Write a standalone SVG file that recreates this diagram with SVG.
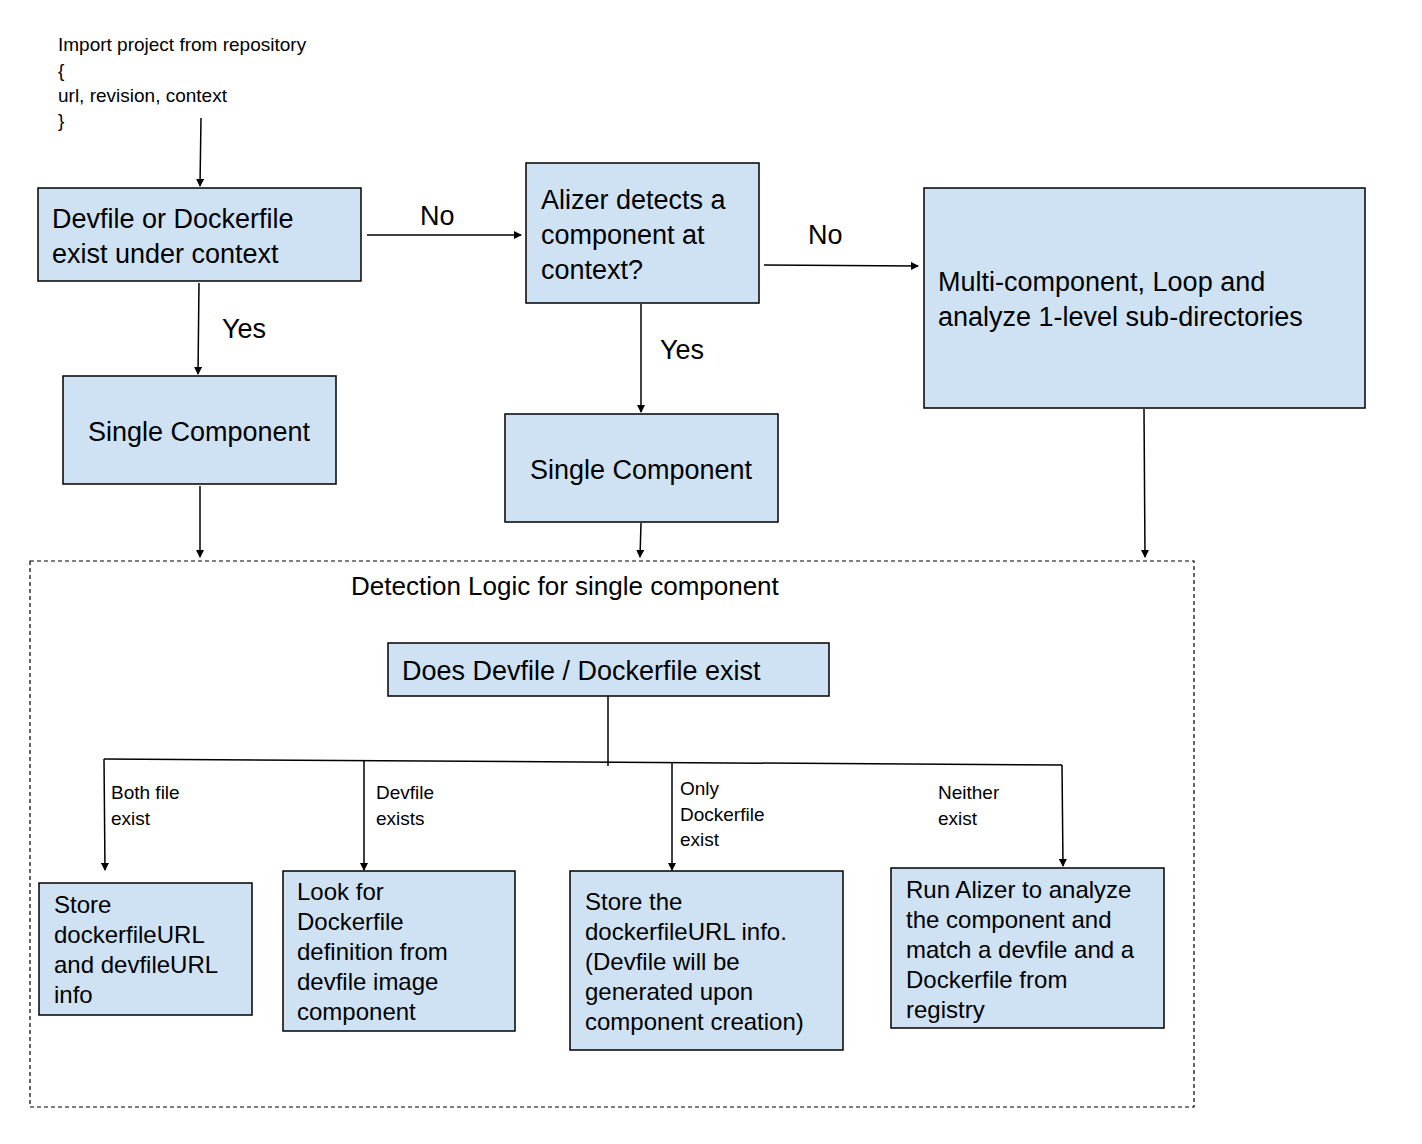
<svg xmlns="http://www.w3.org/2000/svg" width="1422" height="1144" viewBox="0 0 1422 1144">
<style>
text{font-family:"Liberation Sans",Arial,sans-serif;fill:#000}
.box{fill:#cfe2f3;stroke:#000;stroke-width:1.5}
.big{font-size:27px}
.mid{font-size:24px}
.sm{font-size:19px}
.ln{stroke:#000;stroke-width:1.5;fill:none}
.ar{stroke:#000;stroke-width:1.5;fill:none;marker-end:url(#ah)}
</style>
<defs><marker id="ah" markerWidth="8" markerHeight="8" refX="7" refY="4" orient="auto" markerUnits="userSpaceOnUse"><path d="M0,0 L8,4 L0,8 Z" fill="#000"/></marker></defs>
<rect width="1422" height="1144" fill="#fff"/>
<g id="start"><text class="sm" x="58" y="51">Import project from repository</text><text class="sm" x="58" y="77">{</text><text class="sm" x="58" y="102">url, revision, context</text><text class="sm" x="58" y="127">}</text></g>
<g id="connectors">
<path class="ar" d="M201,118 L200,186"/>
<path class="ar" d="M367,235 L521,235"/>
<path class="ar" d="M764,265 L918,266"/>
<path class="ar" d="M199,283 L198,374"/>
<path class="ar" d="M641,304 L641,412"/>
<path class="ar" d="M200,486 L200,557"/>
<path class="ar" d="M641,523 L640,557"/>
<path class="ar" d="M1144,409 L1145,557"/>
<path class="ln" d="M608,696 L608,766"/>
<path class="ln" d="M104,759 L1062,765"/>
<path class="ar" d="M104,759 L105,870"/>
<path class="ar" d="M364,760 L364,870"/>
<path class="ar" d="M672,763 L672,870"/>
<path class="ar" d="M1062,765 L1063,866"/>
<text class="big" x="420" y="225">No</text>
<text class="big" x="808" y="244">No</text>
<text class="big" x="222" y="338">Yes</text>
<text class="big" x="660" y="359">Yes</text>
<text class="sm" x="111" y="799">Both file</text><text class="sm" x="111" y="825">exist</text>
<text class="sm" x="376" y="799">Devfile</text><text class="sm" x="376" y="825">exists</text>
<text class="sm" x="680" y="795">Only</text><text class="sm" x="680" y="821">Dockerfile</text><text class="sm" x="680" y="846">exist</text>
<text class="sm" x="938" y="799">Neither</text><text class="sm" x="938" y="825">exist</text>
</g>
<g id="n1"><rect class="box" x="38" y="188" width="323" height="93"/><text class="big" x="52" y="228">Devfile or Dockerfile</text><text class="big" x="52" y="263">exist under context</text></g>
<g id="n2"><rect class="box" x="526" y="163" width="233" height="140"/><text class="big" x="541" y="209">Alizer detects a</text><text class="big" x="541" y="244">component at</text><text class="big" x="541" y="279">context?</text></g>
<g id="n3"><rect class="box" x="924" y="188" width="441" height="220"/><text class="big" x="938" y="291">Multi-component, Loop and</text><text class="big" x="938" y="326">analyze 1-level sub-directories</text></g>
<g id="n4"><rect class="box" x="63" y="376" width="273" height="108"/><text class="big" x="199" y="441" text-anchor="middle">Single Component</text></g>
<g id="n5"><rect class="box" x="505" y="414" width="273" height="108"/><text class="big" x="641" y="479" text-anchor="middle">Single Component</text></g>
<g id="group"><rect x="30" y="561" width="1164" height="546" fill="none" stroke="#000" stroke-width="1.2" stroke-dasharray="4,3"/><text class="big" x="351" y="595" style="font-size:26px">Detection Logic for single component</text></g>
<g id="n6"><rect class="box" x="388" y="643" width="441" height="53"/><text class="big" x="402" y="680">Does Devfile / Dockerfile exist</text></g>
<g id="b1"><rect class="box" x="39" y="883" width="213" height="132"/><text class="mid" x="54" y="913">Store</text><text class="mid" x="54" y="943">dockerfileURL</text><text class="mid" x="54" y="973">and devfileURL</text><text class="mid" x="54" y="1003">info</text></g>
<g id="b2"><rect class="box" x="283" y="871" width="232" height="160"/><text class="mid" x="297" y="900">Look for</text><text class="mid" x="297" y="930">Dockerfile</text><text class="mid" x="297" y="960">definition from</text><text class="mid" x="297" y="990">devfile image</text><text class="mid" x="297" y="1020">component</text></g>
<g id="b3"><rect class="box" x="570" y="871" width="273" height="179"/><text class="mid" x="585" y="910">Store the</text><text class="mid" x="585" y="940">dockerfileURL info.</text><text class="mid" x="585" y="970">(Devfile will be</text><text class="mid" x="585" y="1000">generated upon</text><text class="mid" x="585" y="1030">component creation)</text></g>
<g id="b4"><rect class="box" x="891" y="868" width="273" height="160"/><text class="mid" x="906" y="898">Run Alizer to analyze</text><text class="mid" x="906" y="928">the component and</text><text class="mid" x="906" y="958">match a devfile and a</text><text class="mid" x="906" y="988">Dockerfile from</text><text class="mid" x="906" y="1018">registry</text></g>
</svg>
